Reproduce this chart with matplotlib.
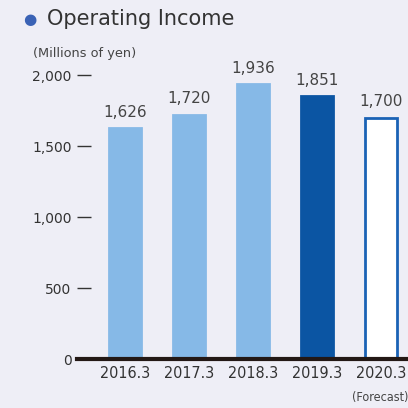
import matplotlib.pyplot as plt
from matplotlib.ticker import FuncFormatter

years = ['2016.3', '2017.3', '2018.3', '2019.3', '2020.3']
income = [1626, 1720, 1936, 1851, 1700]
bar_colors = ['#86B9E7', '#86B9E7', '#86B9E7', '#0B55A3', '#FFFFFF']
edge_colors = ['#86B9E7', '#86B9E7', '#86B9E7', '#0B55A3', '#1A62B5']
yticks = [0, 500, 1000, 1500, 2000]

bg = '#EEEEF6'

fig = plt.figure(figsize=(4.08, 4.08), dpi=100, facecolor=bg)
ax = fig.add_axes([77 / 408, 0.120, 331 / 408, 0.733])
ax.set_facecolor(bg)

x = list(range(len(years)))
ax.bar(x, income, width=0.5, color=bar_colors, edgecolor=edge_colors, linewidth=2)
for xi, v in zip(x, income):
    ax.text(xi, v + 60, f'{v:,}', ha='center', va='bottom', fontsize=11,
            color='#444444')

ax.set_xlim(-0.75, 4.42)
ax.set_ylim(0, 2106)
ax.set_yticks(yticks)
ax.yaxis.set_major_formatter(FuncFormatter(lambda v, p: f'{int(v):,}'))
ax.set_xticks(x)
ax.set_xticklabels(years)

for s in ['top', 'right', 'left']:
    ax.spines[s].set_visible(False)
ax.spines['bottom'].set_linewidth(3)
ax.spines['bottom'].set_color('#231815')

ax.tick_params(axis='y', direction='in', length=10, width=1, color='#333333',
               pad=4, labelsize=10, labelcolor='#333333')
ax.tick_params(axis='x', length=0, pad=5, labelsize=11.5, labelcolor='#333333')
for lab in ax.get_xticklabels():
    lab.set_stretch('condensed')
ax.yaxis.get_major_ticks()[0].tick1line.set_visible(False)

fig.text(380 / 408, 1 - 398 / 408, '(Forecast)', ha='center', va='center',
         fontsize=9, color='#444444', stretch='condensed')

fig.text(30 / 408, 1 - 19 / 408, '\u25CF', ha='center', va='center',
         fontsize=11, color='#3A62B5')
fig.text(47 / 408, 1 - 19 / 408, 'Operating Income', ha='left', va='center',
         fontsize=15, color='#333333')
fig.text(33 / 408, 1 - 53 / 408, '(Millions of yen)', ha='left', va='center',
         fontsize=9.3, color='#444444')

fig.savefig('out.png', dpi=100, facecolor=bg)
